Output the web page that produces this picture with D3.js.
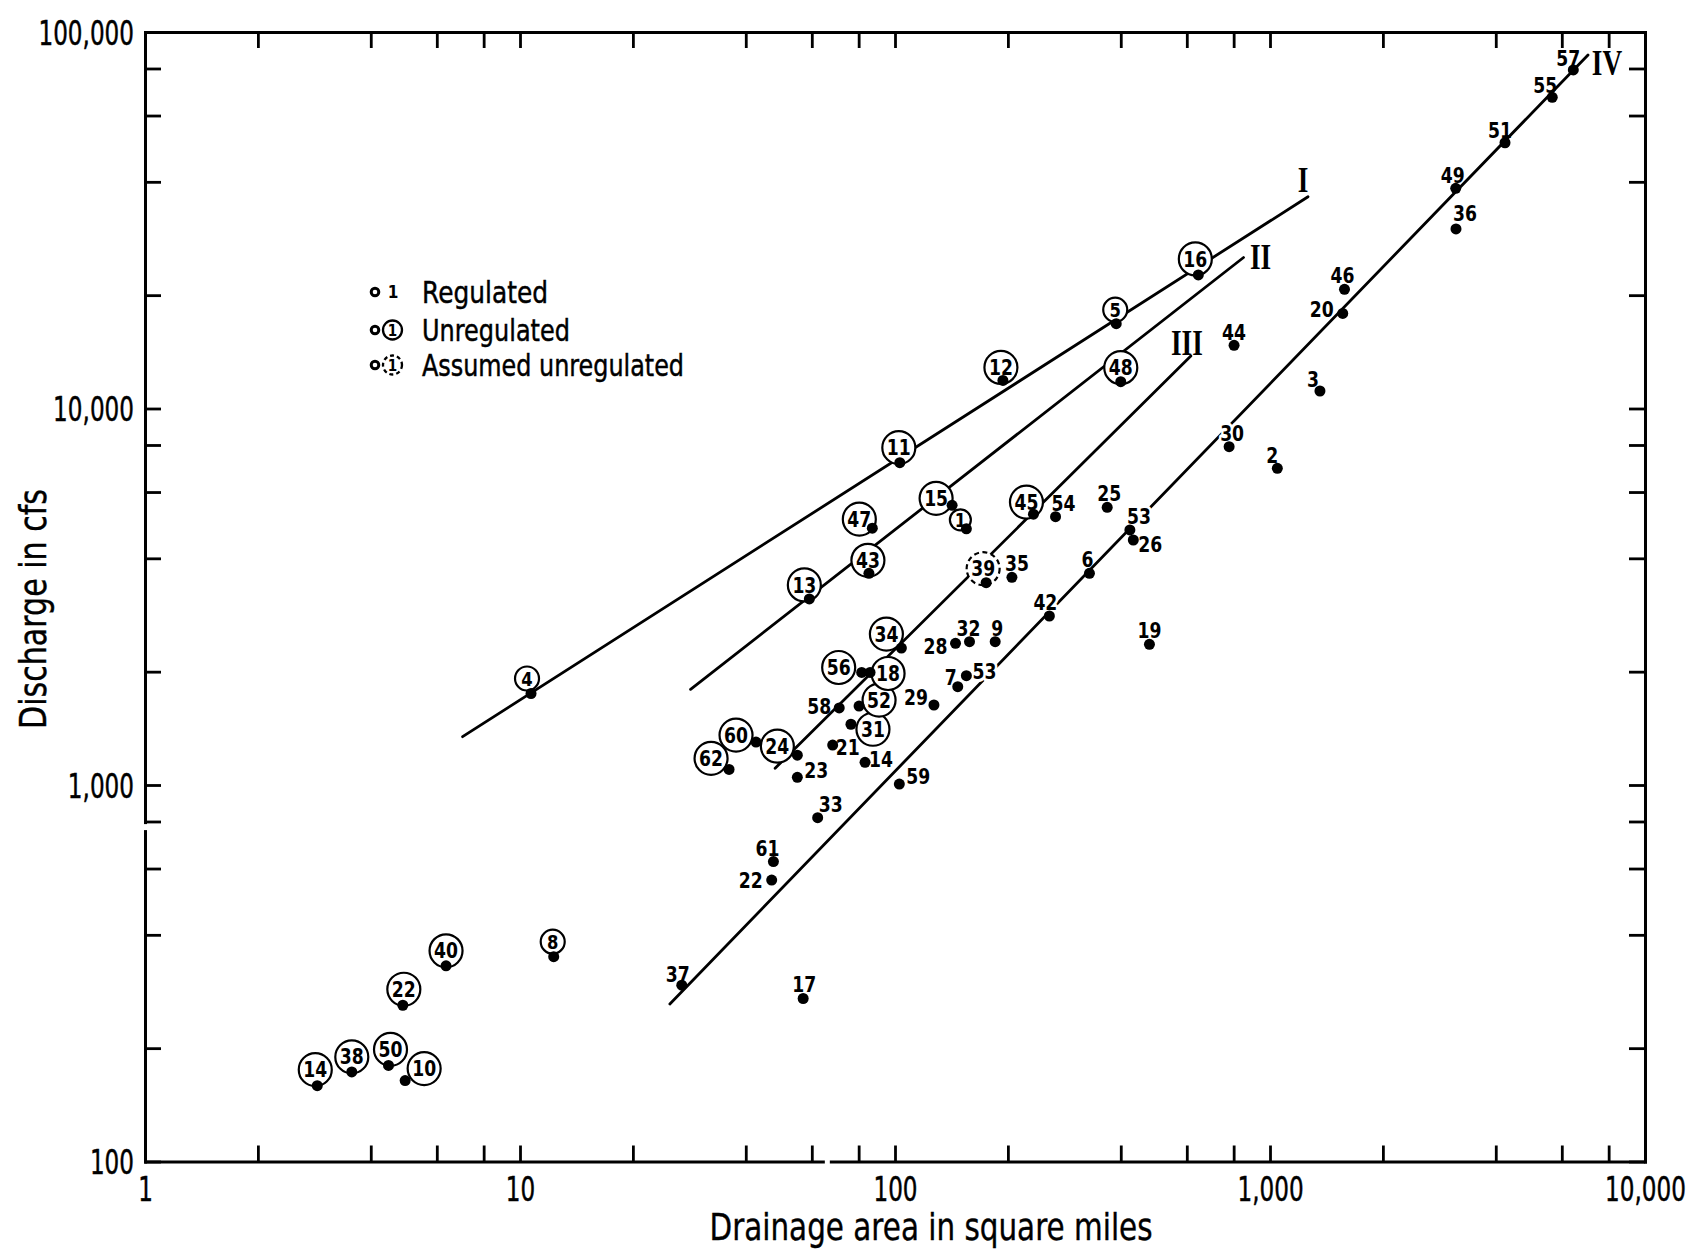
<!DOCTYPE html>
<html><head><meta charset="utf-8">
<script src="https://cdn.jsdelivr.net/npm/d3@7"></script>
<style>
html,body{margin:0;padding:0;background:#fff;}
svg{display:block;background:#fff;}
</style></head><body>
<svg id="chart" width="1686" height="1251"></svg>
<script>
// ---------------- DATA ----------------
// axis ticks
const xTicks = [1,2,4,6,8,10,20,40,60,80,100,200,400,600,800,1000,2000,4000,6000,8000,10000];
const xTickLabels = [1,10,100,1000,10000];
const yTicks = [100,200,400,600,800,1000,2000,4000,6000,8000,10000,20000,40000,60000,80000,100000];
const yTickLabels = [100,1000,10000,100000];

// unregulated stations (circled numbers)
const unregIds  = ["14","38","50","10","22","40","8","4","11","12","5","16","13","47","43","15","1","48","45","34","56","31","52","18","60","62","24"];
const unregArea = [2.88,3.56,4.46,4.94,4.87,6.35,12.3,10.7,103,194,389,644,59.1,87.0,85.2,142,155,400,234,104,81.5,76.3,80.2,85.8,42.6,36.1,54.9];
const unregQ    = [159,173,180,164,260,331,350,1750,7180,11870,16800,22630,3120,4810,3650,5530,4790,11780,5240,2310,1990,1450,1620,1990,1300,1100,1200];

// assumed unregulated (dashed circle)
const assumedIds  = ["39"];
const assumedArea = [175];
const assumedQ    = [3446];

// regulated stations (plain numbers)
const regIds  = ["58","21","14","23","33","59","61","22","37","17","28","32","9","7","53","29","35","54","42","6","25","53","26","19","44","30","2","3","46","20","36","49","51","55","57"];
const regArea = [71.0,68.2,83.2,54.9,62.2,102.7,47.4,46.9,27.0,56.9,145,158,185,147,155,127,205,268,258,330,368,423,432,477,802,778,1046,1359,1580,1563,3133,3128,4233,5658,6439];
const regQ    = [1602,1277,1149,1048,819,1006,626,559,294,271,2379,2402,2402,1824,1951,1631,3562,5160,2811,3650,5466,4757,4474,2364,14720,7915,6936,11130,20730,17890,29990,38440,50800,67080,79280];

// regression lines I - IV (end points, area / discharge)
const lineNames = ["I","II","III","IV"];
const lineArea0 = [7.03, 28.5, 47.9, 25.1];
const lineQ0    = [1344, 1795, 1108, 262];
const lineArea1 = [1263, 850, 615, 7047];
const lineQ1    = [36510, 25180, 13790, 86860];

// legend entries
const legendLabels = ["Regulated","Unregulated","Assumed unregulated"];

// ---------------- LAYOUT (pixels / styles) ----------------
const W = 1686, H = 1251;
const plot = {left:145, right:1645, top:32, bottom:1161.5};
const FONT = "'DejaVu Sans','Liberation Sans',sans-serif";
const SERIF = "'Liberation Serif','DejaVu Serif',serif";

const unregCircleOffset = {
 "14":[-2,-16],"38":[0,-15],"50":[2,-16],"10":[19,-12],"22":[1,-16],"40":[0,-15],"8":[-1,-15],"4":[-4,-15],
 "11":[-1,-15],"12":[-2,-13],"5":[-1,-14],"16":[-3,-16],"13":[-5,-14],"47":[-13,-9],"43":[-1,-13],"15":[-16,-7],
 "1":[-6,-9],"48":[0,-14],"45":[-7,-12],"34":[-15,-14],"56":[-23,-5],"31":[22,5],"52":[20,-6],"18":[18,1],
 "60":[-20,-7],"62":[-18,-11],"24":[-20,-9],"39":[-3,-14]};
const regLabelOffset = [[-20,-2],[15,2],[16,-3],[19,-7],[13,-13],[19,-8],[-6,-13],[-21,0],[-4,-11],[1,-14],
 [-20,3],[-1,-13],[2,-13],[-7,-9],[18,-4],[-18,-8],[5,-14],[8,-13],[-4,-14],[-2,-14],[2,-14],[9,-14],[17,4],
 [0,-14],[0,-13],[3,-13],[-5,-13],[-7,-12],[-2,-14],[-21,-4],[9,-15],[-3,-13],[-5,-12],[-7,-12],[-5,-12]];
const knockout = new Set([14,18,21,25]);   // labels that interrupt line IV
const lineLabelOffset = [[-5,-17],[17,-1],[-4,-14],[19,7]];

// ---------------- DRAW ----------------
const svg = d3.select("#chart");
svg.append("rect").attr("width",W).attr("height",H).attr("fill","#fff");

const x = d3.scaleLog().domain([1,10000]).range([plot.left, plot.right]);
const y = d3.scaleLog().domain([100,100000]).range([plot.bottom, plot.top]);

function ctext(g, px, py, str, o) {
  const gg = g.append("g").attr("transform", `translate(${px},${py}) scale(${o.sx||1},1)`);
  return gg.append("text")
    .attr("text-anchor", o.anchor || "middle")
    .attr("dy", o.dy || "0.36em")
    .attr("font-family", o.family || FONT)
    .attr("font-size", o.size)
    .attr("font-weight", o.weight || "normal")
    .attr("fill", "#000")
    .text(str);
}

const fmt = d3.format(",");
const TICK = 16, SX = 0.68, TS = 34;

function styleAxis(g) {
  g.select(".domain").attr("stroke","#000").attr("stroke-width",3).attr("stroke-linecap","square");
  g.selectAll(".tick line").attr("stroke","#000").attr("stroke-width",2.8);
}

// bottom axis
const gB = svg.append("g").attr("transform",`translate(0,${plot.bottom})`)
  .call(d3.axisBottom(x).tickValues(xTicks).tickSizeInner(-TICK).tickSizeOuter(0)
        .tickFormat(d => xTickLabels.includes(d) ? fmt(d) : ""));
styleAxis(gB);
gB.selectAll(".tick text").each(function(){
  const t = d3.select(this);
  t.attr("y",null).attr("dy","0.36em").attr("transform",`translate(0,27) scale(${SX},1)`)
   .attr("font-family",FONT).attr("font-size",TS).attr("fill","#000")
   .attr("stroke","#000").attr("stroke-width",0.5);
});
// top axis
const gT = svg.append("g").attr("transform",`translate(0,${plot.top})`)
  .call(d3.axisTop(x).tickValues(xTicks).tickSizeInner(-TICK).tickSizeOuter(0).tickFormat(""));
styleAxis(gT);
// left axis
const gL = svg.append("g").attr("transform",`translate(${plot.left},0)`)
  .call(d3.axisLeft(y).tickValues(yTicks).tickSizeInner(-TICK).tickSizeOuter(0)
        .tickFormat(d => yTickLabels.includes(d) ? fmt(d) : ""));
styleAxis(gL);
gL.selectAll(".tick text").each(function(){
  const t = d3.select(this);
  t.attr("x",null).attr("dy","0.36em").attr("text-anchor","end")
   .attr("transform",`translate(-11,0) scale(${SX},1)`)
   .attr("font-family",FONT).attr("font-size",TS).attr("fill","#000")
   .attr("stroke","#000").attr("stroke-width",0.5);
});
// right axis
const gR = svg.append("g").attr("transform",`translate(${plot.right},0)`)
  .call(d3.axisRight(y).tickValues(yTicks).tickSizeInner(-TICK).tickSizeOuter(0).tickFormat(""));
styleAxis(gR);

// small breaks in the printed axes
svg.append("rect").attr("x", x(66)-2.5).attr("y", plot.bottom-4).attr("width",5).attr("height",8).attr("fill","#fff");
svg.append("rect").attr("x", plot.left-4).attr("y", y(773)-3).attr("width",8).attr("height",6).attr("fill","#fff");

// axis titles
svg.append("text").attr("x", 931).attr("y", 1240)
  .attr("text-anchor","middle").attr("font-family",FONT).attr("font-size",38)
  .attr("stroke","#000").attr("stroke-width",0.4)
  .attr("textLength",443).attr("lengthAdjust","spacingAndGlyphs")
  .text("Drainage area in square miles");
svg.append("text").attr("transform","translate(32,609) rotate(-90)")
  .attr("text-anchor","middle").attr("dy","0.36em").attr("font-family",FONT).attr("font-size",38)
  .attr("stroke","#000").attr("stroke-width",0.4)
  .attr("textLength",240).attr("lengthAdjust","spacingAndGlyphs")
  .text("Discharge in cfs");

// regression lines
const gLines = svg.append("g");
lineNames.forEach((n,i) => {
  const x0 = x(lineArea0[i]), y0 = y(lineQ0[i]), x1 = x(lineArea1[i]), y1 = y(lineQ1[i]);
  gLines.append("line").attr("x1",x0).attr("y1",y0).attr("x2",x1).attr("y2",y1)
    .attr("stroke","#000").attr("stroke-width",2.8).attr("stroke-linecap","round");
  const o = lineLabelOffset[i];
  ctext(gLines, x1+o[0], y1+o[1], n, {size:35, sx:0.78, family:SERIF, weight:"bold"});
});

// circled stations
const circled = unregIds.map((id,i)=>({id, a:unregArea[i], q:unregQ[i], dash:false}))
  .concat(assumedIds.map((id,i)=>({id, a:assumedArea[i], q:assumedQ[i], dash:true})));
const gCirc = svg.append("g");
circled.forEach(d => {
  const o = unregCircleOffset[d.id];
  const cx = x(d.a)+o[0], cy = y(d.q)+o[1];
  const r = d.id.length > 1 ? 16.5 : (d.id === "1" ? 10.5 : 12);
  gCirc.append("circle").attr("cx",cx).attr("cy",cy).attr("r",r)
    .attr("fill","#fff").attr("stroke","#000").attr("stroke-width",2.2)
    .attr("stroke-dasharray", d.dash ? "5,3.5" : null);
  ctext(gCirc, cx, cy, d.id, {size: d.id.length>1 ? 21 : 20, sx:0.82, weight:"bold"});
});

// regulated labels
const gLab = svg.append("g");
regIds.forEach((id,i) => {
  const o = regLabelOffset[i];
  const t = ctext(gLab, x(regArea[i])+o[0], y(regQ[i])+o[1], id, {size:21, sx:0.82, weight:"bold"});
  if (knockout.has(i)) t.attr("stroke","#fff").attr("stroke-width",6).attr("paint-order","stroke").attr("stroke-linejoin","round");
});

// dots
const allPts = circled.map(d=>[d.a,d.q]).concat(regIds.map((id,i)=>[regArea[i],regQ[i]]));
svg.append("g").selectAll("circle").data(allPts).join("circle")
  .attr("cx", d=>x(d[0])).attr("cy", d=>y(d[1])).attr("r",5.5).attr("fill","#000");

// legend
const lg = svg.append("g");
const legY = [292, 330, 365];
const legW = [126,148,262];
legendLabels.forEach((lab,i) => {
  const yy = legY[i];
  lg.append("circle").attr("cx",375).attr("cy",yy).attr("r",3.8).attr("fill","#fff").attr("stroke","#000").attr("stroke-width",3);
  if (i === 0) {
    ctext(lg, 393, yy, "1", {size:18, sx:0.85, weight:"bold"});
  } else {
    lg.append("circle").attr("cx",392.5).attr("cy",yy).attr("r",9.5).attr("fill","none")
      .attr("stroke","#000").attr("stroke-width",2.3).attr("stroke-dasharray", i===2 ? "4,3" : null);
    ctext(lg, 392.5, yy, "1", {size:16, sx:0.85, weight:"bold"});
  }
  lg.append("text").attr("x",422).attr("y",yy).attr("dy","0.36em").attr("font-family",FONT)
    .attr("font-size",31).attr("stroke","#000").attr("stroke-width",0.5)
    .attr("textLength",legW[i]).attr("lengthAdjust","spacingAndGlyphs").text(lab);
});
</script>
</body></html>
